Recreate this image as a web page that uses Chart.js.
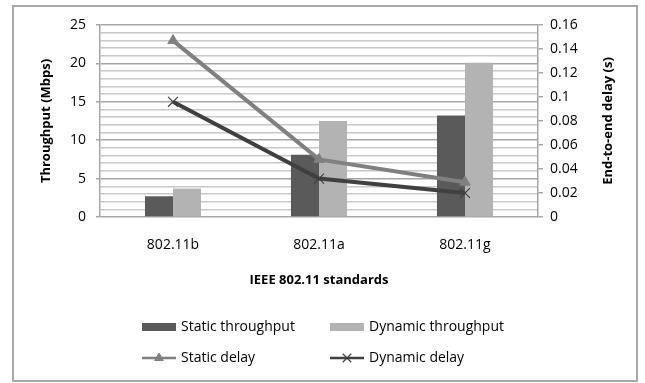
<!DOCTYPE html>
<html>
<head>
<meta charset="utf-8">
<script src="https://cdn.jsdelivr.net/npm/chart.js@4/dist/chart.umd.min.js"></script>
<style>
  html, body { margin: 0; padding: 0; background: #fff; }
  canvas { display: block; }
</style>
</head>
<body>
<canvas id="chart" width="645" height="383"></canvas>
<script>
const categories = ["802.11b", "802.11a", "802.11g"];
const staticThroughput = [2.7, 8.1, 13.2];
const dynamicThroughput = [3.7, 12.5, 20.1];
const staticDelay = [0.147, 0.048, 0.029];
const dynamicDelay = [0.096, 0.032, 0.020];

const FONT = "'Open Sans', 'Noto Sans', sans-serif";

// outer frame drawn around the whole chart
const framePlugin = {
  id: "frame",
  beforeDraw(chart) {
    const ctx = chart.ctx;
    ctx.save();
    ctx.fillStyle = "#fff";
    ctx.fillRect(0, 0, chart.width, chart.height);
    ctx.strokeStyle = "#a8a8a8";
    ctx.lineWidth = 2;
    ctx.strokeRect(13, 6, 624, 375);
    ctx.restore();
  },
};

// right axis title reads bottom-to-top, like the left one
const rightTitlePlugin = {
  id: "rightTitle",
  afterDraw(chart) {
    const ctx = chart.ctx;
    const area = chart.chartArea;
    ctx.save();
    ctx.translate(608, (area.top + area.bottom) / 2);
    ctx.rotate(-Math.PI / 2);
    ctx.font = `bold 13px ${FONT}`;
    ctx.fillStyle = "#000";
    ctx.textAlign = "center";
    ctx.textBaseline = "middle";
    ctx.fillText("End-to-end delay (s)", 0, 0);
    ctx.restore();
  },
};

// two-column legend like the spreadsheet one
const legendPlugin = {
  id: "gridLegend",
  afterDraw(chart) {
    const ctx = chart.ctx;
    const cols = [142, 330];
    const rows = [327, 358];
    ctx.save();
    ctx.font = `14px ${FONT}`;
    ctx.textBaseline = "middle";
    ctx.textAlign = "left";
    chart.data.datasets.forEach((ds, i) => {
      const x = cols[i % 2];
      const y = rows[Math.floor(i / 2)];
      if (ds.type === "bar") {
        ctx.fillStyle = ds.backgroundColor;
        ctx.fillRect(x, y - 4, 34, 8);
      } else {
        ctx.strokeStyle = ds.borderColor;
        ctx.lineWidth = 2.5;
        ctx.beginPath();
        ctx.moveTo(x, y);
        ctx.lineTo(x + 34, y);
        ctx.stroke();
        ctx.fillStyle = ds.pointBackgroundColor;
        ctx.strokeStyle = ds.pointBorderColor;
        ctx.lineWidth = ds.pointBorderWidth;
        Chart.helpers.drawPoint(ctx, {
          pointStyle: ds.pointStyle,
          radius: ds.pointRadius - 1,
          borderWidth: ds.pointBorderWidth,
          rotation: 0,
        }, x + 17, y);
      }
      ctx.fillStyle = "#000";
      ctx.fillText(ds.label, x + 39, y);
    });
    ctx.restore();
  },
};

new Chart(document.getElementById("chart"), {
  data: {
    labels: categories,
    datasets: [
      {
        type: "bar",
        label: "Static throughput",
        data: staticThroughput,
        backgroundColor: "#5a5a5a",
        yAxisID: "y",
        order: 2,
      },
      {
        type: "bar",
        label: "Dynamic throughput",
        data: dynamicThroughput,
        backgroundColor: "#b3b3b3",
        yAxisID: "y",
        order: 2,
      },
      {
        type: "line",
        label: "Static delay",
        data: staticDelay,
        borderColor: "#808080",
        borderWidth: 4,
        pointStyle: "triangle",
        pointRadius: 6,
        pointBorderWidth: 1,
        pointBackgroundColor: "#808080",
        pointBorderColor: "#808080",
        yAxisID: "y1",
        order: 1,
      },
      {
        type: "line",
        label: "Dynamic delay",
        data: dynamicDelay,
        borderColor: "#404040",
        borderWidth: 4,
        pointStyle: "crossRot",
        pointRadius: 7,
        pointBorderWidth: 1.2,
        pointBackgroundColor: "#404040",
        pointBorderColor: "#404040",
        yAxisID: "y1",
        order: 0,
      },
    ],
  },
  options: {
    responsive: false,
    animation: false,
    devicePixelRatio: 1,
    layout: { padding: { left: 0, right: 0, top: 25, bottom: 86 } },
    plugins: { legend: { display: false }, tooltip: { enabled: false } },
    datasets: { bar: { barPercentage: 1, categoryPercentage: 0.384 } },
    scales: {
      x: {
        grid: { display: false, drawTicks: false },
        border: { display: false },
        ticks: { color: "#000", font: { family: FONT, size: 14 }, padding: 20 },
        title: {
          display: true,
          text: "IEEE 802.11 standards",
          color: "#000",
          font: { family: FONT, size: 13, weight: "bold" },
          padding: { top: 0, bottom: 9 },
        },
        afterFit: (scale) => { scale.height = 80; },
      },
      y: {
        position: "left",
        min: 0,
        max: 25,
        ticks: {
          stepSize: 1,
          autoSkip: false,
          padding: 10,
          color: "#000",
          font: { family: FONT, size: 14 },
          callback: (v) => (v % 5 === 0 ? v : ""),
        },
        grid: {
          color: (c) => (c.tick && c.tick.value % 5 === 0 ? "#a6a6a6" : "#c8c8c8"),
          tickColor: (c) => (c.tick && c.tick.value % 5 === 0 ? "#a6a6a6" : "rgba(0,0,0,0)"),
          tickLength: 4,
          lineWidth: 1.5,
        },
        border: { color: "#a6a6a6", width: 1.5 },
        title: {
          display: true,
          text: "Throughput (Mbps)",
          color: "#000",
          font: { family: FONT, size: 13, weight: "bold" },
          padding: { top: 38, bottom: 0 },
        },
        afterFit: (scale) => { scale.width = 100; },
      },
      y1: {
        position: "right",
        min: 0,
        max: 0.16,
        ticks: {
          stepSize: 0.02,
          padding: 7,
          color: "#000",
          font: { family: FONT, size: 14 },
          callback: (v) => String(+v.toFixed(2)),
        },
        grid: { drawOnChartArea: false, color: "#a6a6a6", tickLength: 5, lineWidth: 1.5 },
        border: { color: "#a6a6a6", width: 1.5 },
        afterFit: (scale) => { scale.width = 107; },
      },
    },
  },
  plugins: [framePlugin, rightTitlePlugin, legendPlugin],
});
</script>
</body>
</html>
